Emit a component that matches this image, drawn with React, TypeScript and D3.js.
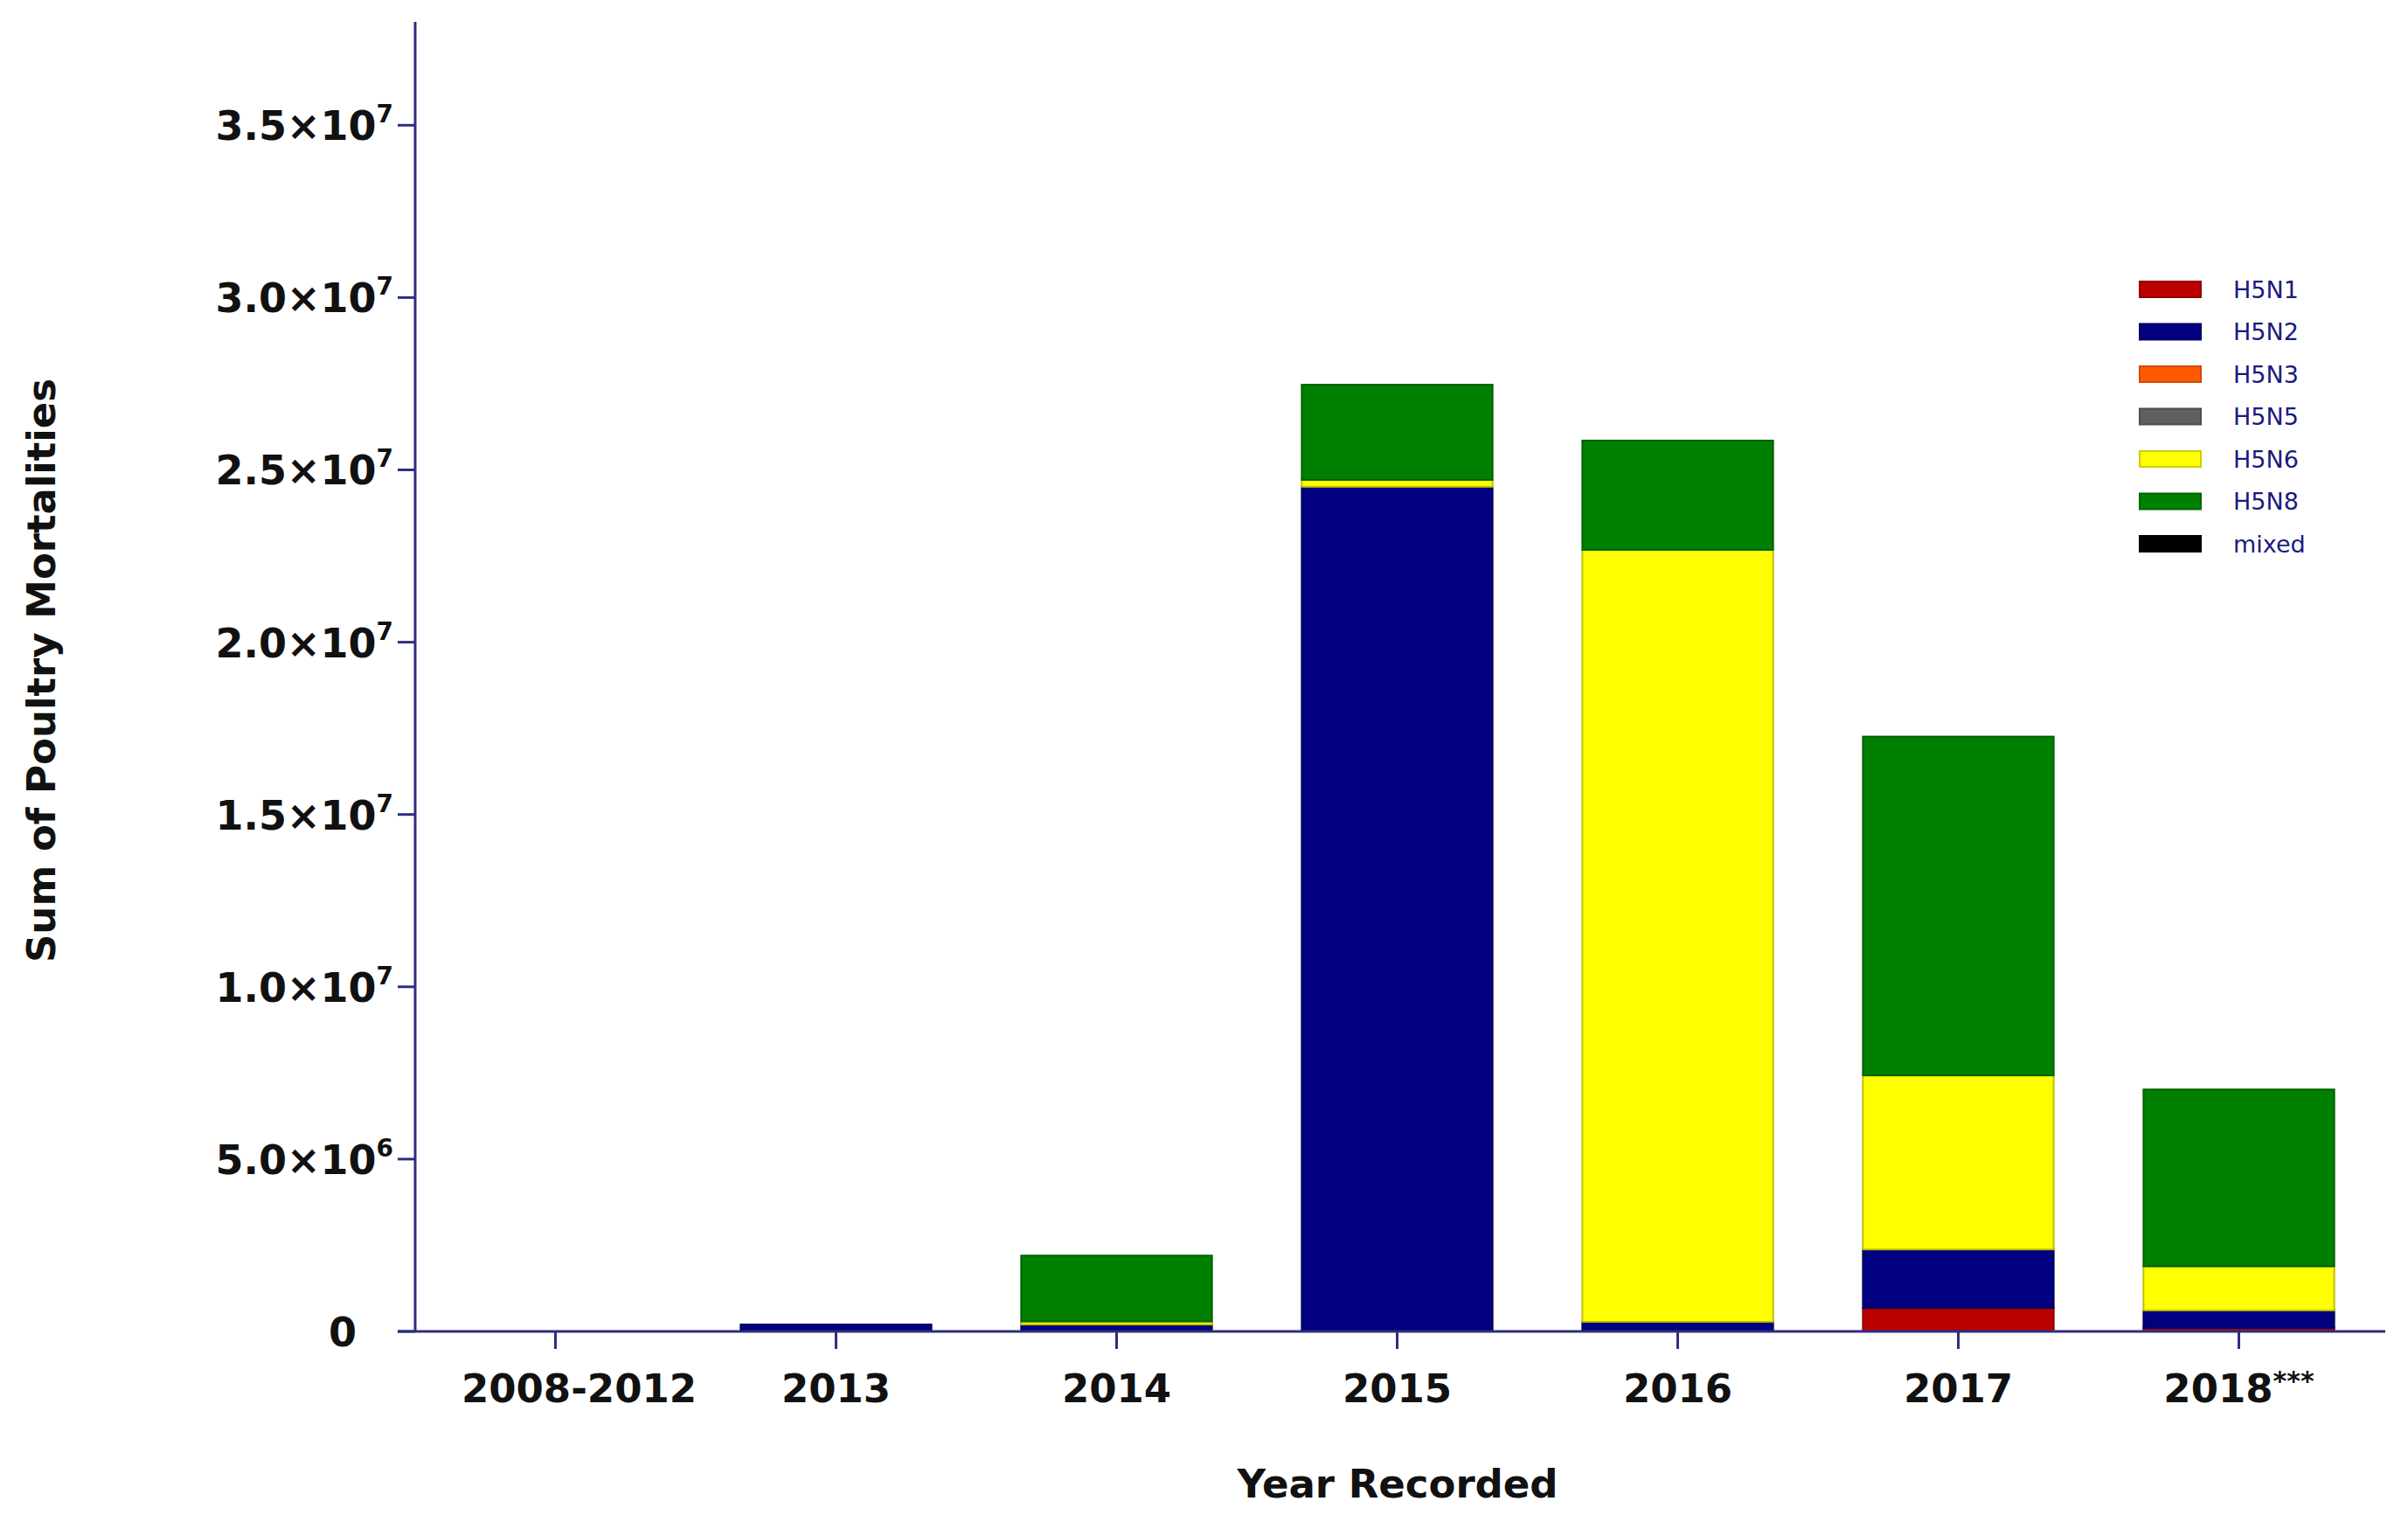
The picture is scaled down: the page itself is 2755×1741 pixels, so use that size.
import React from "react";
import * as d3 from "d3";

const years = ["2008-2012", "2013", "2014", "2015", "2016", "2017", "2018***"];
const strains = ["H5N1", "H5N2", "H5N3", "H5N5", "H5N6", "H5N8", "mixed"];
const colors = ["#bb0000", "#000080", "#ff5a00", "#606060", "#ffff00", "#008000", "#000000"];

const h5n1 = [0, 0, 0, 0, 0, 680000, 100000];
const h5n2 = [0, 200000, 200000, 24510000, 280000, 1700000, 510000];
const h5n3 = [0, 0, 0, 0, 0, 0, 0];
const h5n5 = [0, 0, 0, 0, 0, 0, 0];
const h5n6 = [0, 0, 90000, 200000, 22400000, 5050000, 1280000];
const h5n8 = [0, 0, 1910000, 2760000, 3170000, 9830000, 5130000];
const mixed = [0, 0, 0, 0, 0, 0, 0];

const yTicks = [0, 5e6, 1e7, 1.5e7, 2e7, 2.5e7, 3e7, 3.5e7];

const W = 2755;
const H = 1741;
const axisX = 475;
const axisY = 1523;
const axisColor = "#2e2e7e";
const font = "'DejaVu Sans', Arial, sans-serif";

const App = () => {
  const seriesValues = [h5n1, h5n2, h5n3, h5n5, h5n6, h5n8, mixed];
  const rows = years.map((y, i) => {
    const r: any = { year: y };
    strains.forEach((s, j) => (r[s] = seriesValues[j][i]));
    return r;
  });
  const stacked = d3.stack().keys(strains)(rows);

  const x = d3
    .scaleBand()
    .domain(years)
    .range([axisX, 2722])
    .paddingInner(0.32)
    .paddingOuter(0.16);
  const y = d3.scaleLinear().domain([0, 3.8e7]).range([axisY, 25]);
  const color = d3.scaleOrdinal<string, string>().domain(strains).range(colors);

  const fmt = (v: number) => {
    if (v === 0) return null;
    const e = Math.floor(Math.log10(v));
    return { m: (v / Math.pow(10, e)).toFixed(1), e: String(e) };
  };

  return (
    <svg
      width={W}
      height={H}
      style={{ position: "absolute", left: 0, top: 0, background: "#fff" }}
    >
      {/* bars */}
      {stacked.map((layer) => (
        <g key={layer.key} fill={color(layer.key)}>
          {layer.map((d: any, i) =>
            d[1] - d[0] > 0 ? (
              <rect
                key={i}
                x={x(years[i])}
                y={y(d[1])}
                width={x.bandwidth()}
                height={y(d[0]) - y(d[1])}
                stroke={d3.color(color(layer.key))!.darker(0.8).toString()}
                strokeWidth={2}
              />
            ) : null
          )}
        </g>
      ))}

      {/* y axis */}
      <line x1={axisX} x2={axisX} y1={25} y2={axisY} stroke={axisColor} strokeWidth={3} />
      {yTicks.map((t) => {
        const f = fmt(t);
        return (
          <g key={t} transform={`translate(0,${y(t)})`}>
            <line x1={axisX - 20} x2={axisX} stroke={axisColor} strokeWidth={3} />
            {f ? (
              <text
                x={450}
                dy={17}
                textAnchor="end"
                fontFamily={font}
                fontWeight="bold"
                fontSize={46}
                fill="#111"
              >
                {f.m}×10
                <tspan fontSize={28} dy={-20}>
                  {f.e}
                </tspan>
              </text>
            ) : (
              <text
                x={408}
                dy={17}
                textAnchor="end"
                fontFamily={font}
                fontWeight="bold"
                fontSize={46}
                fill="#111"
              >
                0
              </text>
            )}
          </g>
        );
      })}

      {/* x axis */}
      <line x1={455} x2={2729} y1={axisY} y2={axisY} stroke={axisColor} strokeWidth={3} />
      {years.map((yr, i) => {
        const cx = x(yr)! + x.bandwidth() / 2;
        const base = yr.replace(/\*/g, "");
        const stars = yr.slice(base.length);
        return (
          <g key={yr}>
            <line x1={cx} x2={cx} y1={axisY} y2={axisY + 20} stroke={axisColor} strokeWidth={3} />
            <text
              x={cx + (i === 0 ? 27 : 0)}
              y={1604}
              textAnchor="middle"
              fontFamily={font}
              fontWeight="bold"
              fontSize={45}
              fill="#111"
            >
              {base}
              {stars ? (
                <tspan fontSize={30} dy={-14}>
                  {stars}
                </tspan>
              ) : null}
            </text>
          </g>
        );
      })}

      {/* axis titles */}
      <text
        x={1599}
        y={1713}
        textAnchor="middle"
        fontFamily={font}
        fontWeight="bold"
        fontSize={45}
        fill="#111"
      >
        Year Recorded
      </text>
      <text
        transform="translate(47,767) rotate(-90)"
        textAnchor="middle"
        dominantBaseline="central"
        fontFamily={font}
        fontWeight="bold"
        fontSize={45}
        fill="#111"
      >
        Sum of Poultry Mortalities
      </text>

      {/* legend */}
      {strains.map((s, i) => {
        const cy = 331 + i * 48.5;
        return (
          <g key={s}>
            <rect
              x={2448}
              y={cy - 9}
              width={70}
              height={18}
              fill={color(s)}
              stroke={d3.color(color(s))!.darker(0.6).toString()}
              strokeWidth={2}
            />
            <text
              x={2555}
              y={cy}
              dominantBaseline="central"
              fontFamily={font}
              fontSize={27}
              fill="#1a1a80"
            >
              {s}
            </text>
          </g>
        );
      })}
    </svg>
  );
};

export default App;
